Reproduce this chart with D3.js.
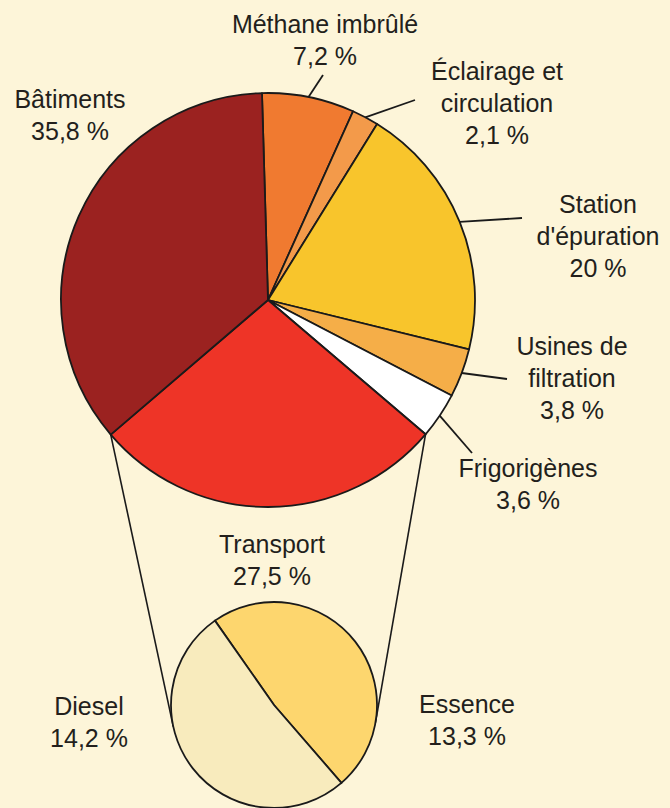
<!DOCTYPE html>
<html>
<head>
<meta charset="utf-8">
<script src="https://cdn.jsdelivr.net/npm/d3@7"></script>
<style>
  html, body { margin:0; padding:0; background:#fdf5d9; }
  svg text { font-family: "Liberation Sans", Arial, sans-serif; fill:#231f1c; }
</style>
</head>
<body>
<svg id="chart"></svg>
<script>
// émissions par secteur (%)
var categories=["Méthane imbrûlé","Éclairage et circulation","Station d'épuration","Usines de filtration","Frigorigènes","Transport","Bâtiments"];
var values=[7.2,2.1,20,3.8,3.6,27.5,35.8];
var valueLabels=["7,2 %","2,1 %","20 %","3,8 %","3,6 %","27,5 %","35,8 %"];
// détail du transport
var subCategories=["Essence","Diesel"];
var subValues=[13.3,14.2];
var subLabels=["13,3 %","14,2 %"];

var w=670, h=808;
var colors=["#f07a30","#f39a4a","#f8c52c","#f5ae48","#ffffff","#ee3427","#9b2220"];
var subColors=["#fdd66e","#f8ebbd"];

// mise en page des étiquettes (lignes, x, y de la 1re ligne, ancre du trait)
var labelLines=[
  ["Méthane imbrûlé"],["Éclairage et","circulation"],["Station","d'épuration"],
  ["Usines de","filtration"],["Frigorigènes"],["Transport"],["Bâtiments"]
];
var labelPos=[[325,33],[497,80],[598,213],[572,355],[528,477],[272,553],[70,108]];
var leaderEnd=[[323,75],[415,100],[522,218],[507,379],[472,453],null,null];
var subLabelLines=[["Essence"],["Diesel"]];
var subLabelPos=[[467,713],[89,715]];

var cx=268, cy=300, r=207;
var scx=274, scy=705, sr=103;
var lineH=32;

var svg=d3.select("#chart").attr("width",w).attr("height",h);
svg.append("rect").attr("width",w).attr("height",h).attr("fill","#fdf5d9");

var data=categories.map(function(c,i){return {name:c,value:values[i],i:i};});
var start=-1.67*Math.PI/180;
var pie=d3.pie().sort(null).value(function(d){return d.value;})
          .startAngle(start).endAngle(start+2*Math.PI);
var arcs=pie(data);
var arc=d3.arc().innerRadius(0).outerRadius(r);

function pt(a,rad,x0,y0){return [x0+rad*Math.sin(a),y0-rad*Math.cos(a)];}

// traits reliant le transport au petit camembert (tangentes)
var tr=arcs[5];
function tangent(p,wantLeft){
  var dx=p[0]-scx, dy=p[1]-scy, d=Math.sqrt(dx*dx+dy*dy);
  var base=Math.atan2(dy,dx), off=Math.acos(sr/d);
  var a1=[scx+sr*Math.cos(base+off),scy+sr*Math.sin(base+off)];
  var a2=[scx+sr*Math.cos(base-off),scy+sr*Math.sin(base-off)];
  if(wantLeft) return a1[0]<a2[0]?a1:a2;
  return a1[0]>a2[0]?a1:a2;
}
var pL=pt(tr.endAngle,r,cx,cy), pR=pt(tr.startAngle,r,cx,cy);
var tL=tangent(pL,true), tRt=tangent(pR,false);
svg.append("line").attr("x1",pL[0]).attr("y1",pL[1]).attr("x2",tL[0]).attr("y2",tL[1])
   .attr("stroke","#1a1a1a").attr("stroke-width",1.6);
svg.append("line").attr("x1",pR[0]).attr("y1",pR[1]).attr("x2",tRt[0]).attr("y2",tRt[1])
   .attr("stroke","#1a1a1a").attr("stroke-width",1.6);

svg.append("g").attr("transform","translate("+cx+","+cy+")")
   .selectAll("path").data(arcs).enter().append("path")
   .attr("d",arc)
   .attr("fill",function(d){return colors[d.data.i];})
   .attr("stroke","#1a1a1a").attr("stroke-width",1.8).attr("stroke-linejoin","round");

// petit camembert
var subData=subCategories.map(function(c,i){return {name:c,value:subValues[i],i:i};});
var sstart=-35*Math.PI/180;
var subPie=d3.pie().sort(null).value(function(d){return d.value;})
             .startAngle(sstart).endAngle(sstart+2*Math.PI);
var subArc=d3.arc().innerRadius(0).outerRadius(sr);
svg.append("g").attr("transform","translate("+scx+","+scy+")")
   .selectAll("path").data(subPie(subData)).enter().append("path")
   .attr("d",subArc)
   .attr("fill",function(d){return subColors[d.data.i];})
   .attr("stroke","#1a1a1a").attr("stroke-width",1.8);

// traits de rappel
arcs.forEach(function(a,i){
  if(!leaderEnd[i]) return;
  var mid=(a.startAngle+a.endAngle)/2;
  var p=pt(mid,r,cx,cy);
  svg.append("line").attr("x1",p[0]).attr("y1",p[1])
     .attr("x2",leaderEnd[i][0]).attr("y2",leaderEnd[i][1])
     .attr("stroke","#1a1a1a").attr("stroke-width",1.8);
});

function drawLabel(lines,pos){
  var t=svg.append("text").attr("text-anchor","middle").attr("font-size",25);
  lines.forEach(function(l,k){
    t.append("tspan").attr("x",pos[0]).attr("y",pos[1]+k*lineH).text(l);
  });
}
arcs.forEach(function(a,i){
  drawLabel(labelLines[i].concat([valueLabels[i]]),labelPos[i]);
});
subData.forEach(function(d,i){
  drawLabel(subLabelLines[i].concat([subLabels[i]]),subLabelPos[i]);
});
</script>
</body>
</html>
